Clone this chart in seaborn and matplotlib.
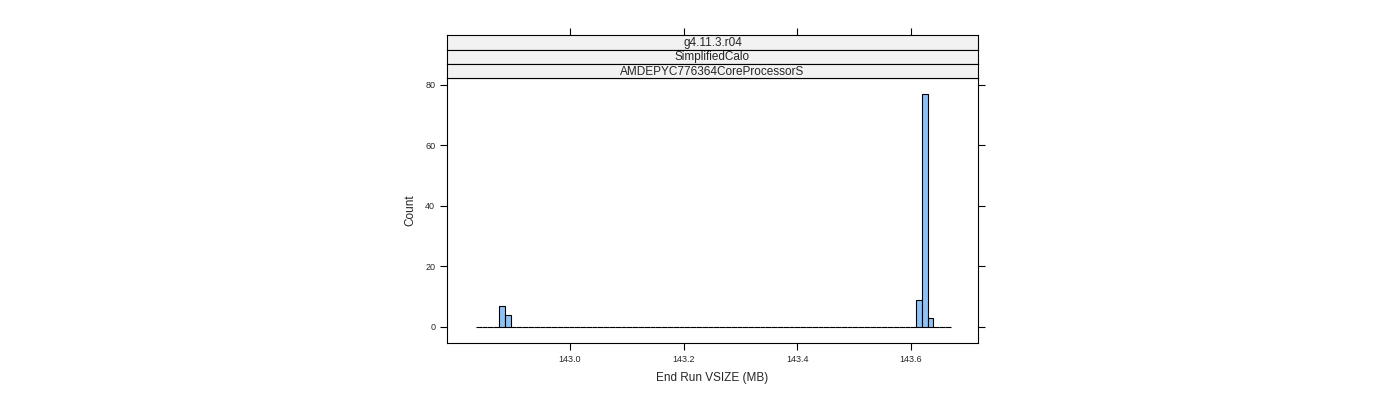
import matplotlib
matplotlib.use("Agg")
import matplotlib.pyplot as plt
import seaborn as sns
import numpy as np
import pandas as pd

strips = ["g4.11.3.r04", "SimplifiedCalo", "AMDEPYC776364CoreProcessorS"]
bin_width = 0.01019
bin_start = 142.8347
n_bins = 82
counts = [0, 0, 0, 0, 7, 4] + [0] * 70 + [9, 77, 3, 0, 0, 0]
xticks = [143.0, 143.2, 143.4, 143.6]
yticks = [0, 20, 40, 60, 80]
xlabel = "End Run VSIZE (MB)"
ylabel = "Count"

edges = bin_start + bin_width * np.arange(n_bins + 1)
centers = (edges[:-1] + edges[1:]) / 2
df = pd.DataFrame({"x": centers, "w": counts})

sns.set_style("white")
plt.rcParams["font.family"] = ["Liberation Sans", "DejaVu Sans"]
W, H = 1400, 400
fig = plt.figure(figsize=(14, 4), dpi=100)
L, R, T, B = 447, 978, 78, 343
xlim = (142.784, 143.718)
ylim = (-5.3, 82.3)

ax = fig.add_axes([L / W, 1 - B / H, (R - L) / W, (B - T) / H])
sns.histplot(data=df, x="x", weights="w", bins=n_bins,
             binrange=(float(edges[0]), float(edges[-1])), ax=ax, color="#8ec1f6",
             alpha=1, edgecolor="black", linewidth=0.8)
ax.set_xlim(*xlim)
ax.set_ylim(*ylim)
ax.set_xticks(xticks)
ax.set_xticklabels([f"{v:.1f}" for v in xticks])
ax.set_yticks(yticks)
ax.tick_params(axis="both", direction="out", length=5, width=0.8, labelsize=6.5,
               bottom=True, left=True, right=True, top=False, labelright=False, color="black")
ax.set_xlabel(xlabel, fontsize=8.5, labelpad=6)
ax.set_ylabel(ylabel, fontsize=8.5, labelpad=6)
for s in ax.spines.values():
    s.set_visible(True)
    s.set_color("black")
    s.set_linewidth(0.8)

axt = fig.add_axes([L / W, 1 - B / H, (R - L) / W, (B - 35) / H], facecolor="none")
axt.set_xlim(*xlim)
axt.set_xticks(xticks)
axt.set_yticks([])
axt.tick_params(axis="x", direction="out", length=5, width=0.8, top=True, bottom=False,
                labeltop=False, labelbottom=False, color="black")
for s in axt.spines.values():
    s.set_visible(False)

tops = [35, 49.5, 64]
for i, txt in enumerate(strips):
    y0 = tops[i]
    y1 = tops[i + 1] if i + 1 < len(tops) else T
    sa = fig.add_axes([L / W, 1 - y1 / H, (R - L) / W, (y1 - y0) / H])
    sa.set_facecolor("#f2f2f2")
    sa.set_xticks([]); sa.set_yticks([])
    for s in sa.spines.values():
        s.set_color("black"); s.set_linewidth(0.8); s.set_visible(True)
    sa.text(0.5, 0.45, txt, ha="center", va="center", fontsize=8.5, transform=sa.transAxes)

fig.savefig("out.png", dpi=100)
